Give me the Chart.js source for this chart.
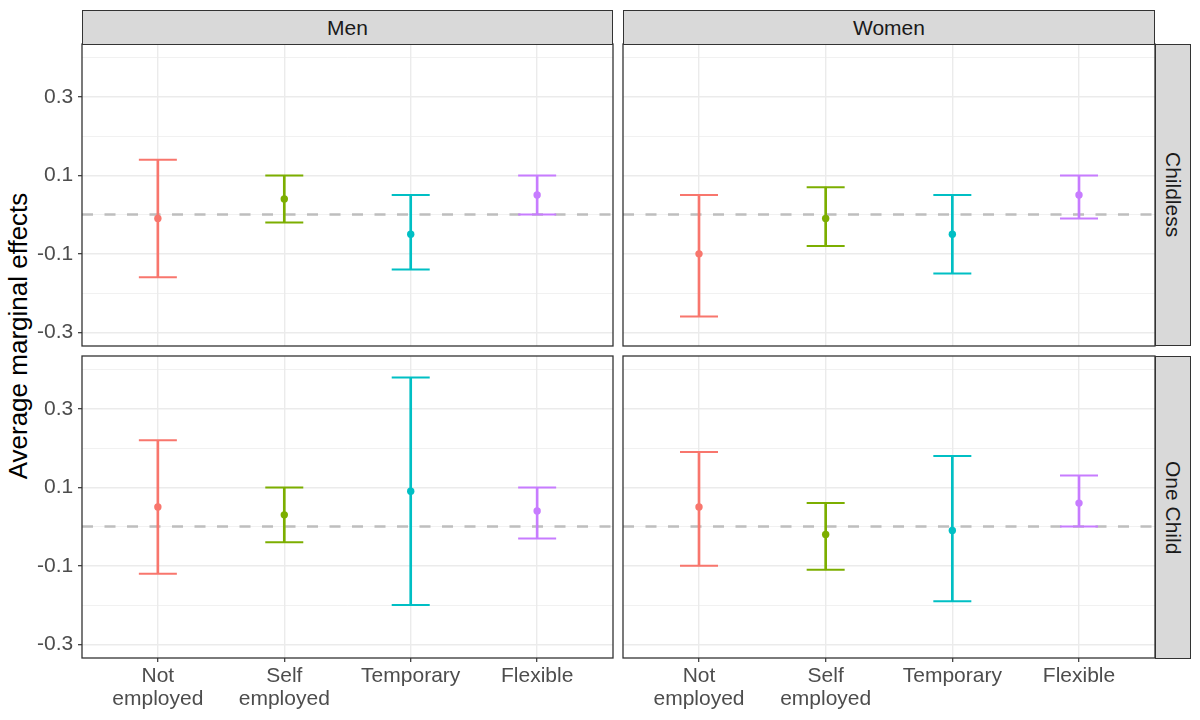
<!DOCTYPE html>
<html lang="en">
<head>
<meta charset="UTF-8" />
<title>Average marginal effects</title>
<script src="https://cdn.jsdelivr.net/npm/chart.js"></script>
<style>
  body {
    margin: 0;
    background: #fff;
    font-family: 'Liberation Sans', Arial, sans-serif;
  }
  #wrap {
    position: relative;
    width: 1200px;
    height: 720px;
    overflow: hidden;
  }
  #wrap canvas {
    position: absolute;
  }
  .strip {
    position: absolute;
    box-sizing: border-box;
    background: #d9d9d9;
    border: 1.3px solid #333;
    color: #1a1a1a;
    font-size: 21px;
    display: flex;
    align-items: center;
    justify-content: center;
  }
  .strip.side {
    writing-mode: vertical-rl;
  }
  #ytitle {
    position: absolute;
    left: 18px;
    top: 336px;
    transform: translate(-50%, -50%) rotate(-90deg);
    white-space: nowrap;
    font-size: 26px;
    color: #000;
  }
</style>
</head>
<body>
<div id="wrap">
  <div id="ytitle">Average marginal effects</div>
</div>

<script>
  // categories, colours and axis breaks
  const categories = ['Not employed', 'Self employed', 'Temporary', 'Flexible'];
  const tickLabels = [['Not', 'employed'], ['Self', 'employed'], 'Temporary', 'Flexible'];
  const colors = ['#F8766D', '#7CAE00', '#00BFC4', '#C77CFF'];
  const yMajor = [-0.3, -0.1, 0.1, 0.3];
  const yMinor = [-0.2, 0, 0.2, 0.4];
  const refLine = 0;

  // estimates and confidence bounds
  const menChildlessEst = [-0.01, 0.04, -0.05, 0.05];
  const menChildlessLo  = [-0.16, -0.02, -0.14, 0.00];
  const menChildlessHi  = [0.14, 0.10, 0.05, 0.10];

  const womenChildlessEst = [-0.10, -0.01, -0.05, 0.05];
  const womenChildlessLo  = [-0.26, -0.08, -0.15, -0.01];
  const womenChildlessHi  = [0.05, 0.07, 0.05, 0.10];

  const menOneChildEst = [0.05, 0.03, 0.09, 0.04];
  const menOneChildLo  = [-0.12, -0.04, -0.20, -0.03];
  const menOneChildHi  = [0.22, 0.10, 0.38, 0.10];

  const womenOneChildEst = [0.05, -0.02, -0.01, 0.06];
  const womenOneChildLo  = [-0.10, -0.11, -0.19, 0.00];
  const womenOneChildHi  = [0.19, 0.06, 0.18, 0.13];

  Chart.defaults.font.family = "'Liberation Sans', Arial, sans-serif";

  const panelH = 302;
  const pad = 4;
  const wrap = document.getElementById('wrap');

  const panels = [
    { est: menChildlessEst, lo: menChildlessLo, hi: menChildlessHi, left: 82, top: 44, width: 531, yAxis: true, xAxis: false },
    { est: womenChildlessEst, lo: womenChildlessLo, hi: womenChildlessHi, left: 623, top: 44, width: 532, yAxis: false, xAxis: false },
    { est: menOneChildEst, lo: menOneChildLo, hi: menOneChildHi, left: 82, top: 356, width: 531, yAxis: true, xAxis: true },
    { est: womenOneChildEst, lo: womenOneChildLo, hi: womenOneChildHi, left: 623, top: 356, width: 532, yAxis: false, xAxis: true }
  ];

  function isMajor(v) {
    return yMajor.some(m => Math.abs(m - v) < 1e-9);
  }

  // dashed reference line under the marks, border on top
  const panelDecor = {
    id: 'panelDecor',
    beforeDatasetsDraw(chart) {
      const { ctx, chartArea, scales } = chart;
      const y = scales.y.getPixelForValue(refLine);
      ctx.save();
      ctx.strokeStyle = '#bebebe';
      ctx.lineWidth = 2.5;
      ctx.setLineDash([11, 11.5]);
      ctx.beginPath();
      ctx.moveTo(chartArea.left, y);
      ctx.lineTo(chartArea.right, y);
      ctx.stroke();
      ctx.restore();
    },
    afterDraw(chart) {
      const { ctx, chartArea } = chart;
      ctx.save();
      ctx.strokeStyle = '#333';
      ctx.lineWidth = 1.3;
      ctx.strokeRect(chartArea.left, chartArea.top, chartArea.width, chartArea.height);
      ctx.restore();
    }
  };

  function makePanel(p) {
    const yW = p.yAxis ? 60 : 0;
    const xH = p.xAxis ? 60 : 0;

    const cv = document.createElement('canvas');
    cv.width = pad + yW + p.width + pad;
    cv.height = pad + panelH + xH + pad;
    cv.style.width = cv.width + 'px';
    cv.style.height = cv.height + 'px';
    cv.style.left = (p.left - pad - yW) + 'px';
    cv.style.top = (p.top - pad) + 'px';
    wrap.appendChild(cv);

    const xs = categories.map((c, i) => i + 1);

    new Chart(cv.getContext('2d'), {
      type: 'bar',
      data: {
        datasets: [
          {
            type: 'scatter',
            data: xs.map((x, i) => ({ x: x, y: p.est[i] })),
            pointRadius: 3.7,
            pointBackgroundColor: colors,
            pointBorderWidth: 0
          },
          {
            type: 'scatter',
            data: xs.map((x, i) => ({ x: x, y: p.hi[i] })),
            pointStyle: 'line',
            pointRadius: 19,
            pointBorderColor: colors,
            pointBorderWidth: 2
          },
          {
            type: 'scatter',
            data: xs.map((x, i) => ({ x: x, y: p.lo[i] })),
            pointStyle: 'line',
            pointRadius: 19,
            pointBorderColor: colors,
            pointBorderWidth: 2
          },
          {
            type: 'bar',
            data: xs.map((x, i) => ({ x: x, y: [p.lo[i], p.hi[i]] })),
            backgroundColor: colors,
            borderWidth: 0,
            barThickness: 2
          }
        ]
      },
      options: {
        responsive: false,
        animation: false,
        events: [],
        layout: { padding: pad, autoPadding: false },
        plugins: {
          legend: { display: false },
          tooltip: { enabled: false }
        },
        scales: {
          x: {
            type: 'linear',
            min: 0.4,
            max: 4.6,
            offset: false,
            afterBuildTicks: s => { s.ticks = xs.map(v => ({ value: v })); },
            afterFit: s => { s.height = xH; s.paddingLeft = 0; s.paddingRight = 0; },
            grid: {
              offset: false,
              color: '#ebebeb',
              lineWidth: 1.4,
              drawTicks: p.xAxis,
              tickLength: 4,
              tickColor: '#333',
              tickWidth: 1.2
            },
            border: { display: false },
            ticks: {
              display: p.xAxis,
              autoSkip: false,
              maxRotation: 0,
              padding: 2.5,
              color: '#4d4d4d',
              font: { size: 21, lineHeight: 1.1 },
              callback: v => tickLabels[v - 1]
            }
          },
          y: {
            min: -0.335,
            max: 0.435,
            afterBuildTicks: s => {
              s.ticks = yMajor.concat(yMinor).sort((a, b) => a - b).map(v => ({ value: v }));
            },
            afterFit: s => { s.width = yW; s.paddingTop = 0; s.paddingBottom = 0; },
            grid: {
              color: '#ebebeb',
              lineWidth: c => isMajor(c.tick.value) ? 1.4 : 0.7,
              drawTicks: p.yAxis,
              tickLength: 4,
              tickColor: c => isMajor(c.tick.value) ? '#333' : 'rgba(0,0,0,0)',
              tickWidth: 1.2
            },
            border: { display: false },
            ticks: {
              display: p.yAxis,
              padding: 4.7,
              color: '#4d4d4d',
              font: { size: 21 },
              callback: v => isMajor(v) ? v.toFixed(1) : ''
            }
          }
        }
      },
      plugins: [panelDecor]
    });
  }

  panels.forEach(makePanel);

  // facet strips
  function addStrip(text, left, top, width, height, side) {
    const d = document.createElement('div');
    d.className = side ? 'strip side' : 'strip';
    d.style.left = left + 'px';
    d.style.top = top + 'px';
    d.style.width = width + 'px';
    d.style.height = height + 'px';
    d.textContent = text;
    wrap.appendChild(d);
  }

  addStrip('Men', 82, 10, 531, 35, false);
  addStrip('Women', 623, 10, 532, 35, false);
  addStrip('Childless', 1154.5, 44, 36, panelH, true);
  addStrip('One Child', 1154.5, 356, 36, panelH + 0.5, true);
</script>
</body>
</html>
